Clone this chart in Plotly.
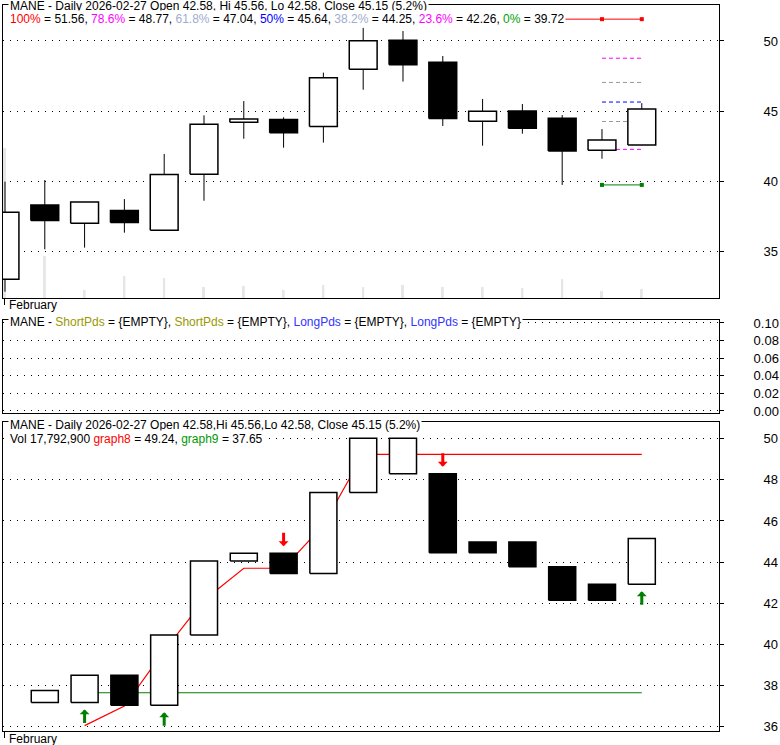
import plotly.graph_objects as go

# ---------------- data ----------------
dates = ["2026-02-04", "2026-02-05", "2026-02-06", "2026-02-09", "2026-02-10", "2026-02-11",
         "2026-02-12", "2026-02-13", "2026-02-17", "2026-02-18", "2026-02-19", "2026-02-20",
         "2026-02-23", "2026-02-24", "2026-02-25", "2026-02-26", "2026-02-27"]
opens  = [32.98, 38.29, 36.98, 37.90, 36.48, 40.48, 44.19, 44.40, 43.90, 47.98, 50.05, 48.48, 44.26, 45.00, 44.48, 42.19, 42.58]
highs  = [39.95, 40.07, 38.50, 38.71, 41.93, 44.69, 45.71, 44.55, 47.74, 50.95, 50.71, 48.93, 45.86, 45.50, 44.71, 43.71, 45.56]
lows   = [32.09, 35.12, 35.24, 36.31, 36.48, 38.59, 43.02, 42.38, 42.74, 46.52, 47.10, 43.93, 42.52, 43.38, 39.72, 41.59, 42.58]
closes = [37.76, 37.18, 38.50, 37.04, 40.46, 44.05, 44.43, 43.45, 47.38, 50.02, 48.30, 44.46, 44.98, 43.77, 42.15, 42.92, 45.15]
volume = [296600000, 83000000, 15800000, 43500000, 39500000, 21700000, 23700000, 15800000, 25700000,
          21700000, 25700000, 21700000, 21700000, 19800000, 37600000, 13800000, 17792900]

fib_labels = ["100%", "78.6%", "61.8%", "50%", "38.2%", "23.6%", "0%"]
fib_values = [51.56, 48.77, 47.04, 45.64, 44.25, 42.26, 39.72]
fib_start = [9, 15, 15, 15, 15, 15, 15]
fib_end = 16

# lower panel: boxes from previous close to close, fill flags
box_fill = [None, "W", "W", "B", "W", "W", "W", "B", "W", "W", "W", "B", "B", "B", "B", "B", "W"]
graph8 = [None, None, 36.05, 37.00, 39.70, 42.15, 43.70, 43.70, 45.80, 49.24, 49.24, 49.24, 49.24, 49.24, 49.24, 49.24, 49.24]
graph9 = [None, None, 37.65, 37.65, 37.65, 37.65, 37.65, 37.65, 37.65, 37.65, 37.65, 37.65, 37.65, 37.65, 37.65, 37.65, 37.65]
buy_signals = [2, 4, 16]
sell_signals = [7, 11]

top_ticks = [35, 40, 45, 50]
mid_ticks = [0.0, 0.02, 0.04, 0.06, 0.08, 0.10]
bot_ticks = [36, 38, 40, 42, 44, 46, 48, 50]

# ---------------- style ----------------
W, H = 780, 745
ML, MR = 3, 61
PW = W - ML - MR
FONT = "Liberation Sans, Arial, sans-serif"
fib_line_colors = ["#ff0000", "#ff00ff", "#999999", "#0000ff", "#999999", "#ff00ff", "#008000"]
fib_dash = ["solid", "4px,3px", "4px,3px", "4px,3px", "4px,3px", "4px,3px", "solid"]
fib_text_colors = ["#ff0000", "#ff00ff", "#a0acd0", "#0000ff", "#a0acd0", "#ff00ff", "#00a000"]
HALF = 0.35
HALF_B = 0.34


def py(p):
    return (H - p) / H


def px(p):
    return (p - ML) / PW


top_dom = [py(298), py(5)]
mid_dom = [py(413), py(320)]
bot_dom = [py(731), py(422)]
n = len(closes)
idx = list(range(n))

fig = go.Figure()

# volume (base axis of the top panel)
fig.add_trace(go.Bar(x=idx, y=volume, width=0.05, marker=dict(color="#e6e6e6", line=dict(width=0)),
                     xaxis="x", yaxis="y", showlegend=False, hoverinfo="skip"))

# fib lines (under candles)
for lab, val, st, lc, dsh in zip(fib_labels, fib_values, fib_start, fib_line_colors, fib_dash):
    fig.add_trace(go.Scatter(x=[st, fib_end], y=[val, val], mode="lines",
                             line=dict(color=lc, width=1, dash=dsh),
                             xaxis="x", yaxis="y2", showlegend=False, hoverinfo="skip"))
for k in (0, len(fib_values) - 1):
    fig.add_trace(go.Scatter(x=[fib_end - 1, fib_end], y=[fib_values[k]] * 2, mode="markers",
                             marker=dict(symbol="square", size=4, color=fib_line_colors[k]),
                             xaxis="x", yaxis="y2", showlegend=False, hoverinfo="skip"))

# wicks
wx, wy = [], []
for i in idx:
    wx += [i, i, None]
    wy += [lows[i], highs[i], None]
fig.add_trace(go.Scatter(x=wx, y=wy, mode="lines", line=dict(color="black", width=1),
                         xaxis="x", yaxis="y2", showlegend=False, hoverinfo="skip"))


def polys(items, half):
    xs, ys = [], []
    for i, lo, hi in items:
        xs += [i - half, i + half, i + half, i - half, i - half, None]
        ys += [lo, lo, hi, hi, lo, None]
    return xs, ys


up = [(i, min(opens[i], closes[i]), max(opens[i], closes[i])) for i in idx if closes[i] >= opens[i]]
dn = [(i, min(opens[i], closes[i]), max(opens[i], closes[i])) for i in idx if closes[i] < opens[i]]
for items, fc in ((up, "white"), (dn, "black")):
    xs, ys = polys(items, HALF)
    fig.add_trace(go.Scatter(x=xs, y=ys, mode="lines", fill="toself", fillcolor=fc,
                             line=dict(color="black", width=1.5),
                             xaxis="x", yaxis="y2", showlegend=False, hoverinfo="skip"))

# middle panel (empty)
fig.add_trace(go.Scatter(x=[None], y=[None], xaxis="x2", yaxis="y3", showlegend=False))

# bottom panel lines
fig.add_trace(go.Scatter(x=idx, y=graph9, mode="lines", line=dict(color="#008000", width=1.2),
                         xaxis="x3", yaxis="y4", showlegend=False, hoverinfo="skip", connectgaps=False))
fig.add_trace(go.Scatter(x=idx, y=graph8, mode="lines", line=dict(color="#ff0000", width=1.2),
                         xaxis="x3", yaxis="y4", showlegend=False, hoverinfo="skip", connectgaps=False))

bw = [(i, min(closes[i - 1], closes[i]), max(closes[i - 1], closes[i])) for i in idx if box_fill[i] == "W"]
bb = [(i, min(closes[i - 1], closes[i]), max(closes[i - 1], closes[i])) for i in idx if box_fill[i] == "B"]
for items, fc in ((bw, "white"), (bb, "black")):
    xs, ys = polys(items, HALF_B)
    fig.add_trace(go.Scatter(x=xs, y=ys, mode="lines", fill="toself", fillcolor=fc,
                             line=dict(color="black", width=1.5),
                             xaxis="x3", yaxis="y4", showlegend=False, hoverinfo="skip"))

# ---------------- axes ----------------
grid = dict(showgrid=True, gridcolor="black", gridwidth=1, griddash="1px,6px", zeroline=False)
frame = dict(showline=True, linecolor="black", linewidth=1, mirror=True)
xr = [-0.05, 17.94]
tickfont = dict(family=FONT, size=13, color="black")

fig.update_layout(
    width=W, height=H, margin=dict(l=ML, r=MR, t=0, b=0, autoexpand=False),
    paper_bgcolor="white", plot_bgcolor="white", showlegend=False,
    xaxis=dict(domain=[0, 1], anchor="y", range=xr, showgrid=False, zeroline=False, **frame,
               tickvals=[0], ticks="outside", ticklen=6, tickcolor="black", showticklabels=False),
    yaxis=dict(domain=top_dom, anchor="x", range=[0, 579e6], visible=False, fixedrange=True),
    yaxis2=dict(overlaying="y", anchor="x", side="right", range=[31.643, 52.571], **grid, **frame,
                tickvals=top_ticks, ticks="outside", ticklen=4, tickcolor="black",
                tickfont=tickfont, ticklabelstandoff=37),
    xaxis2=dict(domain=[0, 1], anchor="y3", range=xr, showgrid=False, zeroline=False, **frame,
                showticklabels=False, ticks=""),
    yaxis3=dict(domain=mid_dom, anchor="x2", side="right", range=[-0.0023, 0.1034], **grid, **frame,
                tickvals=mid_ticks, tickformat=".2f", ticks="outside", ticklen=4, tickcolor="black",
                tickfont=tickfont, ticklabelstandoff=27),
    xaxis3=dict(domain=[0, 1], anchor="y4", range=xr, showgrid=False, zeroline=False, **frame,
                tickvals=[0], ticks="outside", ticklen=6, tickcolor="black", showticklabels=False),
    yaxis4=dict(domain=bot_dom, anchor="x3", side="right", range=[35.79, 50.81], **grid, **frame,
                tickvals=bot_ticks, ticks="outside", ticklen=4, tickcolor="black",
                tickfont=tickfont, ticklabelstandoff=37),
)

# ---------------- texts ----------------
last = n - 1
chg = (closes[last] / closes[last - 1] - 1) * 100
head1 = (f"MANE - Daily {dates[last]} Open {opens[last]:.2f}, Hi {highs[last]:.2f}, "
         f"Lo {lows[last]:.2f}, Close {closes[last]:.2f} ({chg:.1f}%)")
head_b = (f"MANE - Daily {dates[last]} Open {opens[last]:.2f},Hi {highs[last]:.2f},"
          f"Lo {lows[last]:.2f}, Close {closes[last]:.2f} ({chg:.1f}%)")
fib_txt = ", ".join(f"<span style='color:{c}'>{l}</span> = {v:.2f}"
                    for l, v, c in zip(fib_labels, fib_values, fib_text_colors))
mid_txt = ("MANE - <span style='color:#999900'>ShortPds</span> = {EMPTY}, "
           "<span style='color:#999900'>ShortPds</span> = {EMPTY}, "
           "<span style='color:#3333ff'>LongPds</span> = {EMPTY}, "
           "<span style='color:#3333ff'>LongPds</span> = {EMPTY}")
vol_txt = (f"Vol {volume[last]:,} <span style='color:#ff0000'>graph8</span> = {graph8[last]:.2f}, "
           f"<span style='color:#009900'>graph9</span> = {graph9[last]:.2f}")

txt_font = dict(family=FONT, size=12, color="black")


def head(text, ypix):
    fig.add_annotation(text=text, xref="paper", yref="paper", x=px(8), y=py(ypix),
                       xanchor="left", yanchor="middle", showarrow=False, bgcolor="white",
                       borderpad=1, font=txt_font)


head(head1, 6)
head(fib_txt, 19.5)
head(mid_txt, 321.5)
head(head_b, 425)
head(vol_txt, 439.5)

for xa, ypix in (("x", 305.5), ("x3", 739)):
    fig.add_annotation(text="February", xref=xa, yref="paper", x=0, y=py(ypix), xanchor="left",
                       xshift=2, yanchor="middle", showarrow=False, font=txt_font)

for i in buy_signals:
    fig.add_annotation(x=i, y=min(closes[i - 1], closes[i]), xref="x3", yref="y4", text="",
                       showarrow=True, arrowhead=1, arrowsize=0.55, arrowwidth=3, arrowcolor="#008000",
                       ax=0, ay=15, yshift=-7)
for i in sell_signals:
    fig.add_annotation(x=i, y=max(closes[i - 1], closes[i]), xref="x3", yref="y4", text="",
                       showarrow=True, arrowhead=1, arrowsize=0.55, arrowwidth=3, arrowcolor="#ff0000",
                       ax=0, ay=-15, yshift=7)

fig.write_html("out.html", config={"displayModeBar": False},
               post_script="document.body.style.margin='0';document.body.style.overflow='hidden';")
